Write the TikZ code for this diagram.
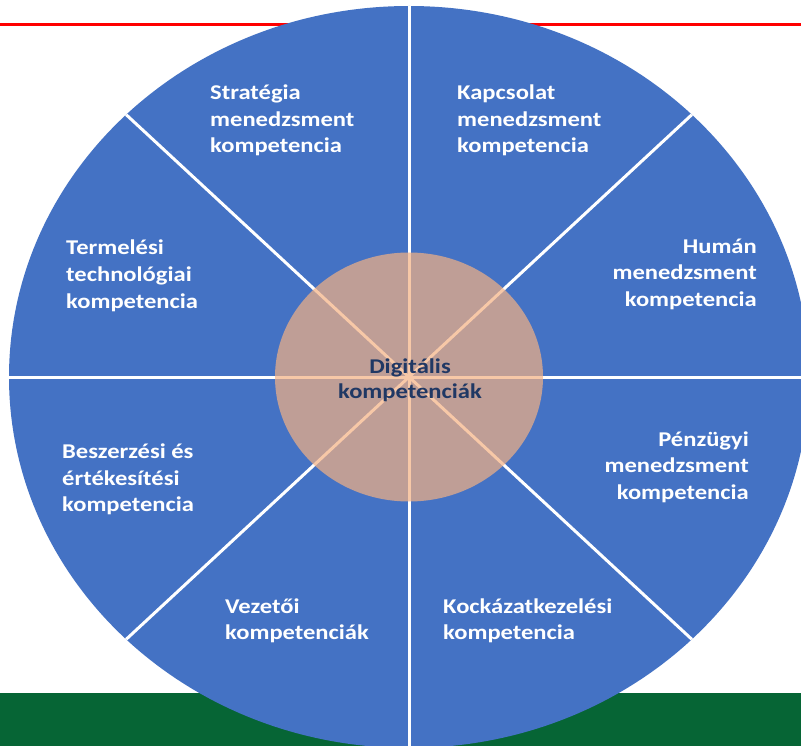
\documentclass[tikz,border=0pt]{standalone}
\usepackage{fontspec}
\usetikzlibrary{calc}
\newfontfamily\lblfont{Carlito}[FakeStretch=1.17]
\definecolor{wheelblue}{HTML}{4472C4}
\definecolor{coreorange}{HTML}{F4B183}
\definecolor{corenavy}{HTML}{203864}
\definecolor{bandgreen}{HTML}{066535}
\newcommand\myltab[1]{\begin{tabular}[t]{@{}l@{}}#1\end{tabular}}
\newcommand\myrtab[1]{\begin{tabular}[t]{@{}r@{}}#1\end{tabular}}
\newcommand\myctab[1]{\begin{tabular}[t]{@{}c@{}}#1\end{tabular}}
\begin{document}
\begin{tikzpicture}[x=1pt,y=-1pt,
  lbl/.style={inner sep=0pt,text=white,font=\lblfont\bfseries\fontsize{21}{26.7}\selectfont},
  corelbl/.style={inner sep=0pt,text=corenavy,font=\lblfont\bfseries\fontsize{21}{25.5}\selectfont},
  spoke/.style={white,line width=3pt}]
\useasboundingbox (0,0) rectangle (801,746);
\clip (0,0) rectangle (801,746);
\fill[white] (0,0) rectangle (801,746);
% background elements
\fill[bandgreen] (0,693) rectangle (801,746);
\draw[red,line width=3pt] (0,25) -- (801,25);
% wheel
\coordinate (c) at (409,377);
\fill[wheelblue] (c) ellipse [x radius=400, y radius=371];
\coordinate (s0) at (809,377);
\coordinate (s45) at ($(c)+(282.8,-262.3)$);
\coordinate (s90) at (409,6);
\coordinate (s135) at ($(c)+(-282.8,-262.3)$);
\coordinate (s180) at (9,377);
\coordinate (s225) at ($(c)+(-282.8,262.3)$);
\coordinate (s270) at (409,748);
\coordinate (s315) at ($(c)+(282.8,262.3)$);
\foreach \a in {0,45,90,135,180,225,270,315}{\draw[spoke] (c) -- (s\a);}
% core
\fill[coreorange,opacity=0.7] (c) ellipse [x radius=134, y radius=124.5];
% labels
\node[lbl,anchor=base west] (strat) at (210,99.5) {\myltab{Stratégia\\menedzsment\\kompetencia}};
\node[lbl,anchor=base west] (kapcs) at (457,99.5) {\myltab{Kapcsolat\\menedzsment\\kompetencia}};
\node[lbl,anchor=base west] (term) at (66,255) {\myltab{Termelési\\technológiai\\kompetencia}};
\node[lbl,anchor=base east] (human) at (757,253.3) {\myrtab{Humán\\menedzsment\\kompetencia}};
\node[lbl,anchor=base west] (besz) at (62,458.3) {\myltab{Beszerzési és\\értékesítési\\kompetencia}};
\node[lbl,anchor=base east] (penz) at (749,446) {\myrtab{Pénzügyi\\menedzsment\\kompetencia}};
\node[lbl,anchor=base west] (vez) at (225,613) {\myltab{Vezetői\\kompetenciák}};
\node[lbl,anchor=base west] (kock) at (443,613) {\myltab{Kockázatkezelési\\kompetencia}};
\node[corelbl,anchor=base] (dig) at (410,373) {\myctab{Digitális\\kompetenciák}};
\end{tikzpicture}
\end{document}
